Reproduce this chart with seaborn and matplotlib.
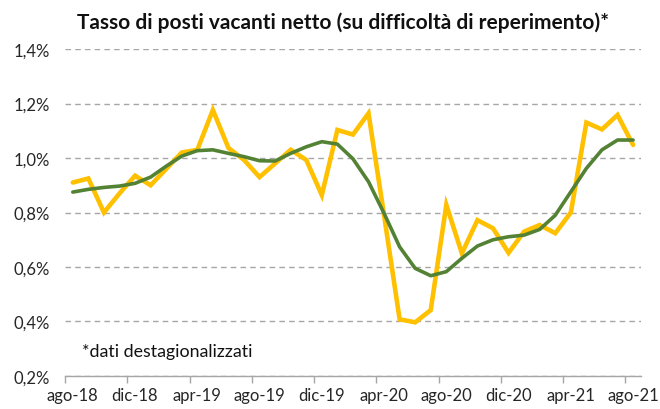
import matplotlib
matplotlib.use("Agg")
import numpy as np
import pandas as pd
import matplotlib.pyplot as plt
import seaborn as sns
from matplotlib.ticker import FixedLocator, FuncFormatter

# mesi da ago-18 a ago-21
months = [
    "ago-18", "set-18", "ott-18", "nov-18", "dic-18",
    "gen-19", "feb-19", "mar-19", "apr-19", "mag-19", "giu-19", "lug-19",
    "ago-19", "set-19", "ott-19", "nov-19", "dic-19",
    "gen-20", "feb-20", "mar-20", "apr-20", "mag-20", "giu-20", "lug-20",
    "ago-20", "set-20", "ott-20", "nov-20", "dic-20",
    "gen-21", "feb-21", "mar-21", "apr-21", "mag-21", "giu-21", "lug-21",
    "ago-21",
]
raw_rate = [
    0.91, 0.925, 0.80, 0.87, 0.935,
    0.90, 0.96, 1.02, 1.03, 1.176, 1.037, 0.993,
    0.93, 0.98, 1.03, 0.993, 0.864,
    1.103, 1.086, 1.164, 0.79, 0.408, 0.397, 0.442,
    0.828, 0.65, 0.772, 0.742, 0.652,
    0.73, 0.754, 0.724, 0.80, 1.13, 1.105, 1.158,
    1.048,
]
trend_rate = [
    0.875, 0.885, 0.892, 0.897, 0.907,
    0.93, 0.97, 1.007, 1.027, 1.03, 1.017, 1.005,
    0.99, 0.989, 1.017, 1.041, 1.06,
    1.051, 0.997, 0.913, 0.797, 0.674, 0.595, 0.568,
    0.583, 0.632, 0.677, 0.70, 0.711,
    0.717, 0.738, 0.79, 0.876, 0.962, 1.03, 1.066,
    1.066,
]
tick_labels = ["ago-18", "dic-18", "apr-19", "ago-19", "dic-19",
               "apr-20", "ago-20", "dic-20", "apr-21", "ago-21"]
y_ticks = [0.2, 0.4, 0.6, 0.8, 1.0, 1.2, 1.4]

df = pd.DataFrame({
    "mese": months,
    "pos": np.arange(len(months)),
    "grezzo": raw_rate,
    "trend": trend_rate,
})

sns.set_style("white")
plt.rcParams["font.family"] = ["Lato", "DejaVu Sans"]

fig = plt.figure(figsize=(6.6, 4.1), dpi=100)
ax = fig.add_axes([0.0985, 0.0805, 0.8725, 0.7975])

sns.lineplot(data=df, x="pos", y="grezzo", color="#FFC000", lw=3.3, ax=ax,
             solid_joinstyle="miter", zorder=3)
sns.lineplot(data=df, x="pos", y="trend", color="#548235", lw=2.6, ax=ax,
             zorder=4)

ax.set_xlim(-0.5, len(months) - 0.5)
ax.set_ylim(0.2, 1.4)

# etichette centrate sui mesi, tacche tra le categorie
label_pos = [months.index(t) for t in tick_labels]
ax.xaxis.set_major_locator(FixedLocator(label_pos))
ax.set_xticklabels(tick_labels)
ax.xaxis.set_minor_locator(FixedLocator([p - 0.5 for p in label_pos]))
ax.tick_params(axis="x", which="major", length=0, pad=8, labelsize=12,
               labelcolor="#262626")
ax.tick_params(axis="x", which="minor", length=5, width=1, color="#A6A6A6",
               direction="out", bottom=True)

ax.set_yticks(y_ticks)
ax.yaxis.set_major_formatter(FuncFormatter(lambda v, _: f"{v:.1f}%".replace(".", ",")))
ax.tick_params(axis="y", length=0, pad=11, labelsize=12, labelcolor="#262626")

ax.grid(axis="y", ls=(0, (4, 3)), color="#A6A6A6", lw=1)
ax.grid(axis="x", visible=False)
for side in ["top", "left", "right"]:
    ax.spines[side].set_visible(False)
ax.spines["bottom"].set_color("#A6A6A6")
ax.spines["bottom"].set_linewidth(1)
ax.spines["bottom"].set_zorder(5)

ax.set_xlabel("")
ax.set_ylabel("")

fig.text(0.52, 0.945, "Tasso di posti vacanti netto (su difficoltà di reperimento)*",
         ha="center", va="center", fontsize=15, fontweight="bold", color="#111111")
ax.text(0.03, 0.075, "*dati destagionalizzati", transform=ax.transAxes,
        fontsize=12.8, color="#111111", va="center", ha="left")

fig.savefig("out.png", dpi=100)
